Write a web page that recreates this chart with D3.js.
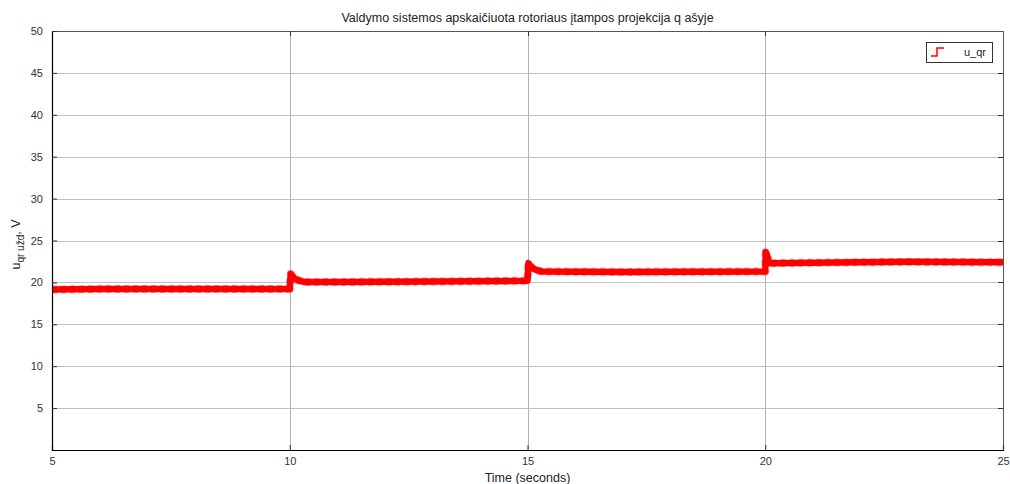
<!DOCTYPE html>
<html>
<head>
<meta charset="utf-8">
<script src="https://cdn.jsdelivr.net/npm/d3@7"></script>
<style>
  html, body { margin: 0; padding: 0; background: #fff; }
  svg { display: block; font-family: "Liberation Sans", Arial, sans-serif; }
</style>
</head>
<body>
<svg id="chart" width="1010" height="484"></svg>
<script>
// Rotor voltage q-axis reference computed by the control system
const timeS = [5, 6, 7.5, 9, 10, 10.02, 10.06, 10.12, 10.2, 10.3, 11, 13, 15,
               15.02, 15.06, 15.12, 15.2, 15.3, 17, 20,
               20.01, 20.04, 20.08, 20.15, 21, 23, 25];
const uqr   = [19.15, 19.2, 19.2, 19.2, 19.2, 21.0, 20.7, 20.4, 20.2, 20.05, 20.05, 20.1, 20.2,
               22.3, 21.95, 21.65, 21.45, 21.3, 21.25, 21.3,
               23.6, 23.2, 22.3, 22.3, 22.35, 22.45, 22.4];
const xTicks = [5, 10, 15, 20, 25];
const yTicks = [5, 10, 15, 20, 25, 30, 35, 40, 45, 50];
const titleText = "Valdymo sistemos apskaičiuota rotoriaus įtampos projekcija q ašyje";
const xLabel = "Time (seconds)";
const legendLabel = "u_qr";

const svg = d3.select("#chart");
const m = { left: 52, right: 1003, top: 31, bottom: 450 };

const x = d3.scaleLinear().domain([5, 25]).range([m.left, m.right]);
const y = d3.scaleLinear().domain([0, 50]).range([m.bottom, m.top]);

// grid
const grid = svg.append("g");
grid.selectAll("line.h").data(yTicks).join("line")
  .attr("x1", m.left).attr("x2", m.right)
  .attr("y1", d => Math.round(y(d)) + 0.5).attr("y2", d => Math.round(y(d)) + 0.5)
  .attr("stroke", "#c0c0c0").attr("stroke-width", 1);
grid.selectAll("line.v").data(xTicks.slice(1, -1)).join("line")
  .attr("y1", m.top).attr("y2", m.bottom)
  .attr("x1", d => Math.round(x(d)) + 0.5).attr("x2", d => Math.round(x(d)) + 0.5)
  .attr("stroke", "#b4b4b4").attr("stroke-width", 1);

// frame: top and right in dark gray
svg.append("line").attr("x1", m.left).attr("x2", m.right + 1)
  .attr("y1", m.top + 0.5).attr("y2", m.top + 0.5).attr("stroke", "#555");
svg.append("line").attr("x1", m.right + 0.5).attr("x2", m.right + 0.5)
  .attr("y1", m.top).attr("y2", m.bottom).attr("stroke", "#555");

// signal: solid band plus a ripple-textured edge
const line = d3.line().x((d, i) => x(timeS[i])).y(d => y(d));
svg.append("path").datum(uqr)
  .attr("d", line)
  .attr("fill", "none").attr("stroke", "#ff0000")
  .attr("stroke-width", 6.5).attr("stroke-linejoin", "round");
svg.append("path").datum(uqr)
  .attr("d", line)
  .attr("fill", "none").attr("stroke", "#ff0000").attr("stroke-opacity", 0.45)
  .attr("stroke-linejoin", "round")
  .attr("stroke-width", 8).attr("stroke-dasharray", "5,4");

// axes
const xAxis = d3.axisBottom(x).tickValues(xTicks).tickSize(-5).tickPadding(7).tickFormat(d3.format("d"));
const gx = svg.append("g").attr("transform", `translate(0,${m.bottom})`).call(xAxis);
const yAxis = d3.axisLeft(y).tickValues(yTicks).tickSize(-5).tickPadding(9).tickFormat(d3.format("d"));
const gy = svg.append("g").attr("transform", `translate(${m.left},0)`).call(yAxis);
[gx, gy].forEach(g => {
  g.select(".domain").attr("stroke", "#000").attr("stroke-width", 1.2);
  g.selectAll(".tick line").attr("stroke", "#333");
  g.selectAll(".tick text").attr("fill", "#333").attr("font-size", 11)
    .attr("font-family", "Liberation Sans, Arial, sans-serif");
});

// opposite-side ticks
svg.append("g").selectAll("line").data(xTicks.slice(1, -1)).join("line")
  .attr("x1", d => Math.round(x(d)) + 0.5).attr("x2", d => Math.round(x(d)) + 0.5)
  .attr("y1", m.top).attr("y2", m.top + 5).attr("stroke", "#333");
svg.append("g").selectAll("line").data(yTicks.slice(0, -1)).join("line")
  .attr("y1", d => Math.round(y(d)) + 0.5).attr("y2", d => Math.round(y(d)) + 0.5)
  .attr("x1", m.right - 5).attr("x2", m.right).attr("stroke", "#333");

// title
svg.append("text").attr("x", (m.left + m.right) / 2).attr("y", 22)
  .attr("text-anchor", "middle").attr("font-size", 12.5).attr("fill", "#222")
  .text(titleText);

// x label
svg.append("text").attr("x", (m.left + m.right) / 2).attr("y", 482)
  .attr("text-anchor", "middle").attr("font-size", 12.5).attr("fill", "#222")
  .text(xLabel);

// y label with subscript
const yl = svg.append("text")
  .attr("transform", `translate(20,${(m.top + m.bottom) / 2 + 4}) rotate(-90)`)
  .attr("text-anchor", "middle").attr("font-size", 12.5).attr("fill", "#222");
yl.append("tspan").text("u");
yl.append("tspan").attr("dy", 4).attr("font-size", 10).text("qr užd");
yl.append("tspan").attr("dy", -4).text(", V");

// legend
const lg = svg.append("g").attr("transform", "translate(926,42)");
lg.append("rect").attr("x", 0.5).attr("y", 0.5).attr("width", 66).attr("height", 20)
  .attr("fill", "#fff").attr("stroke", "#333");
lg.append("path").attr("d", "M5,14 H11 V6 H18")
  .attr("fill", "none").attr("stroke", "#ff0000").attr("stroke-width", 1.5);
lg.append("text").attr("x", 38).attr("y", 14).attr("font-size", 11).attr("fill", "#222")
  .text(legendLabel);
</script>
</body>
</html>
